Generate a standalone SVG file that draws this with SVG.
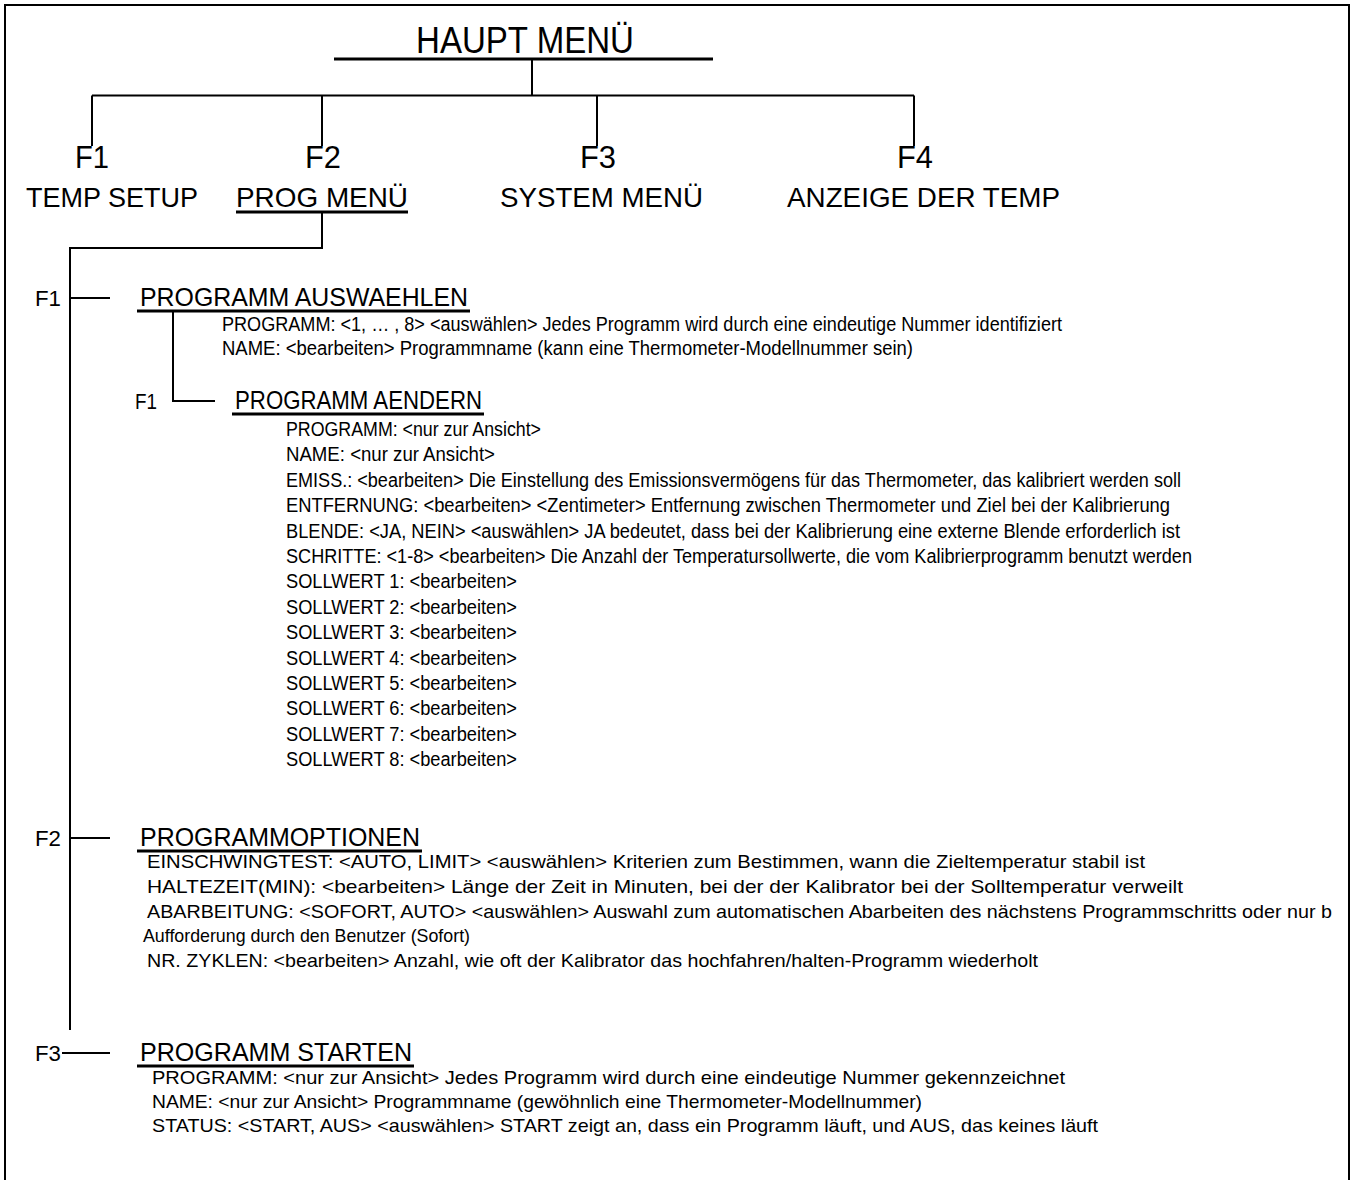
<svg xmlns="http://www.w3.org/2000/svg" width="1354" height="1180" viewBox="0 0 1354 1180">
<style>
text{font-family:"Liberation Sans Narrow","Arial Narrow","Liberation Sans",Arial,sans-serif;fill:#000}
.t1{font-size:36px}
.fk{font-size:32px}
.mn{font-size:28px}
.fl{font-size:22px}
.hd{font-size:25px}
.ln{font-size:19.5px}
.ln2{font-size:19px;font-family:"Liberation Sans",Arial,sans-serif}
.c{stroke:#000;stroke-width:2;fill:none}
.u{stroke:#000;stroke-width:3;fill:none}
</style>
<rect width="1354" height="1180" fill="#fff"/>
<path class="c" d="M5,1180 V5 H1349 V1180"/>
<g id="connectors">
<path class="c" d="M532,59 V95.5 M92,95.5 H914 M92,95.5 V146 M322,95.5 V146 M597,95.5 V146 M914,95.5 V146"/>
<path class="c" d="M322,212 V248 H70 V1030"/>
<path class="c" d="M70,298 H110 M173,311 V401 H215 M70,838 H110 M62,1053 H110"/>
</g>
<g id="haupt"><text class="t1" x="416" y="53" textLength="218" lengthAdjust="spacingAndGlyphs">HAUPT MENÜ</text><line class="u" x1="334" y1="59" x2="713" y2="59" stroke-width="4"/></g>
<g id="f1-temp"><text class="fk" x="75" y="168" textLength="34" lengthAdjust="spacingAndGlyphs">F1</text><text class="mn" x="26" y="207" textLength="172" lengthAdjust="spacingAndGlyphs">TEMP SETUP</text></g>
<g id="f2-prog"><text class="fk" x="305" y="168" textLength="36" lengthAdjust="spacingAndGlyphs">F2</text><text class="mn" x="236" y="207" textLength="172" lengthAdjust="spacingAndGlyphs">PROG MENÜ</text><line class="u" x1="236" y1="212" x2="408" y2="212"/></g>
<g id="f3-system"><text class="fk" x="580" y="168" textLength="36" lengthAdjust="spacingAndGlyphs">F3</text><text class="mn" x="500" y="207" textLength="203" lengthAdjust="spacingAndGlyphs">SYSTEM MENÜ</text></g>
<g id="f4-anzeige"><text class="fk" x="897" y="168" textLength="36" lengthAdjust="spacingAndGlyphs">F4</text><text class="mn" x="787" y="207" textLength="273" lengthAdjust="spacingAndGlyphs">ANZEIGE DER TEMP</text></g>
<g id="auswaehlen">
<text class="fl" x="35" y="306" textLength="26" lengthAdjust="spacingAndGlyphs">F1</text>
<text class="hd" x="140" y="306" textLength="328" lengthAdjust="spacingAndGlyphs">PROGRAMM AUSWAEHLEN</text>
<line class="u" x1="137" y1="311" x2="470" y2="311" stroke-width="2.5"/>
<text class="ln" x="222" y="331" textLength="840" lengthAdjust="spacingAndGlyphs">PROGRAMM: &lt;1, … , 8&gt; &lt;auswählen&gt; Jedes Programm wird durch eine eindeutige Nummer identifiziert</text>
<text class="ln" x="222" y="355" textLength="691" lengthAdjust="spacingAndGlyphs">NAME: &lt;bearbeiten&gt; Programmname (kann eine Thermometer-Modellnummer sein)</text>
</g>
<g id="aendern">
<text class="fl" x="135" y="409" textLength="22" lengthAdjust="spacingAndGlyphs">F1</text>
<text class="hd" x="235" y="409" textLength="247" lengthAdjust="spacingAndGlyphs">PROGRAMM AENDERN</text>
<line class="u" x1="232" y1="414" x2="484" y2="414" stroke-width="2.5"/>
<text class="ln" x="286" y="436" textLength="255" lengthAdjust="spacingAndGlyphs">PROGRAMM: &lt;nur zur Ansicht&gt;</text>
<text class="ln" x="286" y="461.4" textLength="209" lengthAdjust="spacingAndGlyphs">NAME: &lt;nur zur Ansicht&gt;</text>
<text class="ln" x="286" y="486.8" textLength="895" lengthAdjust="spacingAndGlyphs">EMISS.: &lt;bearbeiten&gt; Die Einstellung des Emissionsvermögens für das Thermometer, das kalibriert werden soll</text>
<text class="ln" x="286" y="512.2" textLength="884" lengthAdjust="spacingAndGlyphs">ENTFERNUNG: &lt;bearbeiten&gt; &lt;Zentimeter&gt; Entfernung zwischen Thermometer und Ziel bei der Kalibrierung</text>
<text class="ln" x="286" y="537.6" textLength="894" lengthAdjust="spacingAndGlyphs">BLENDE: &lt;JA, NEIN&gt; &lt;auswählen&gt; JA bedeutet, dass bei der Kalibrierung eine externe Blende erforderlich ist</text>
<text class="ln" x="286" y="563" textLength="906" lengthAdjust="spacingAndGlyphs">SCHRITTE: &lt;1-8&gt; &lt;bearbeiten&gt; Die Anzahl der Temperatursollwerte, die vom Kalibrierprogramm benutzt werden</text>
<text class="ln" x="286" y="588.4" textLength="231" lengthAdjust="spacingAndGlyphs">SOLLWERT 1: &lt;bearbeiten&gt;</text>
<text class="ln" x="286" y="613.8" textLength="231" lengthAdjust="spacingAndGlyphs">SOLLWERT 2: &lt;bearbeiten&gt;</text>
<text class="ln" x="286" y="639.2" textLength="231" lengthAdjust="spacingAndGlyphs">SOLLWERT 3: &lt;bearbeiten&gt;</text>
<text class="ln" x="286" y="664.6" textLength="231" lengthAdjust="spacingAndGlyphs">SOLLWERT 4: &lt;bearbeiten&gt;</text>
<text class="ln" x="286" y="690" textLength="231" lengthAdjust="spacingAndGlyphs">SOLLWERT 5: &lt;bearbeiten&gt;</text>
<text class="ln" x="286" y="715.4" textLength="231" lengthAdjust="spacingAndGlyphs">SOLLWERT 6: &lt;bearbeiten&gt;</text>
<text class="ln" x="286" y="740.8" textLength="231" lengthAdjust="spacingAndGlyphs">SOLLWERT 7: &lt;bearbeiten&gt;</text>
<text class="ln" x="286" y="766.2" textLength="231" lengthAdjust="spacingAndGlyphs">SOLLWERT 8: &lt;bearbeiten&gt;</text>
</g>
<g id="optionen">
<text class="fl" x="35" y="846" textLength="26" lengthAdjust="spacingAndGlyphs">F2</text>
<text class="hd" x="140" y="846" textLength="280" lengthAdjust="spacingAndGlyphs">PROGRAMMOPTIONEN</text>
<line class="u" x1="137" y1="851" x2="422" y2="851" stroke-width="2.5"/>
<text class="ln2" x="147" y="868" textLength="998" lengthAdjust="spacingAndGlyphs">EINSCHWINGTEST: &lt;AUTO, LIMIT&gt; &lt;auswählen&gt; Kriterien zum Bestimmen, wann die Zieltemperatur stabil ist</text>
<text class="ln2" x="147" y="893" textLength="1036" lengthAdjust="spacingAndGlyphs">HALTEZEIT(MIN): &lt;bearbeiten&gt; Länge der Zeit in Minuten, bei der der Kalibrator bei der Solltemperatur verweilt</text>
<text class="ln2" x="147" y="918" textLength="1185" lengthAdjust="spacingAndGlyphs">ABARBEITUNG: &lt;SOFORT, AUTO&gt; &lt;auswählen&gt; Auswahl zum automatischen Abarbeiten des nächstens Programmschritts oder nur b</text>
<text class="ln2" x="143" y="942" textLength="327" lengthAdjust="spacingAndGlyphs">Aufforderung durch den Benutzer (Sofort)</text>
<text class="ln2" x="147" y="967" textLength="891" lengthAdjust="spacingAndGlyphs">NR. ZYKLEN: &lt;bearbeiten&gt; Anzahl, wie oft der Kalibrator das hochfahren/halten-Programm wiederholt</text>
</g>
<g id="starten">
<text class="fl" x="35" y="1061" textLength="26" lengthAdjust="spacingAndGlyphs">F3</text>
<text class="hd" x="140" y="1061" textLength="272" lengthAdjust="spacingAndGlyphs">PROGRAMM STARTEN</text>
<line class="u" x1="137" y1="1066" x2="414" y2="1066" stroke-width="2.5"/>
<text class="ln2" x="152" y="1084" textLength="913" lengthAdjust="spacingAndGlyphs">PROGRAMM: &lt;nur zur Ansicht&gt; Jedes Programm wird durch eine eindeutige Nummer gekennzeichnet</text>
<text class="ln2" x="152" y="1108" textLength="770" lengthAdjust="spacingAndGlyphs">NAME: &lt;nur zur Ansicht&gt; Programmname (gewöhnlich eine Thermometer-Modellnummer)</text>
<text class="ln2" x="152" y="1132" textLength="946" lengthAdjust="spacingAndGlyphs">STATUS: &lt;START, AUS&gt; &lt;auswählen&gt; START zeigt an, dass ein Programm läuft, und AUS, das keines läuft</text>
</g>
</svg>
